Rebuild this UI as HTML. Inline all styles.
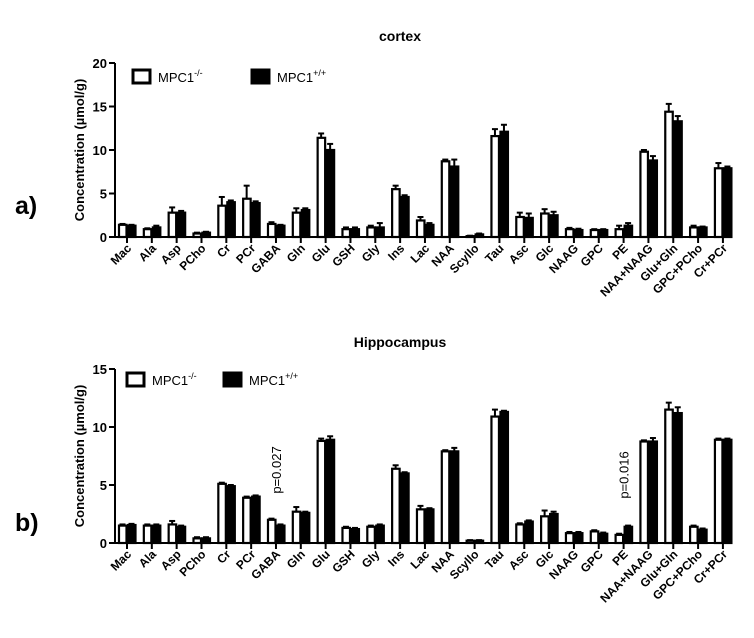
<!DOCTYPE html>
<html><head><meta charset="utf-8"><style>
html,body{margin:0;padding:0;background:#fff;}
svg{display:block;font-family:"Liberation Sans",Arial,sans-serif;}
</style></head><body>
<svg id="chart" width="754" height="638" viewBox="0 0 754 638" xmlns="http://www.w3.org/2000/svg"></svg>
<script>
const categories=["Mac","Ala","Asp","PCho","Cr","PCr","GABA","Gln","Glu","GSH","Gly","Ins","Lac","NAA","Scyllo","Tau","Asc","Glc","NAAG","GPC","PE","NAA+NAAG","Glu+Gln","GPC+PCho","Cr+PCr"];
const cortexKO=[1.4,0.9,2.8,0.4,3.6,4.4,1.5,2.8,11.4,0.9,1.1,5.5,1.9,8.7,0.1,11.6,2.3,2.7,0.9,0.8,0.9,9.8,14.4,1.1,7.9];
const cortexKOerr=[0.1,0.1,0.6,0.1,1.0,1.5,0.2,0.5,0.5,0.2,0.2,0.4,0.4,0.2,0.05,0.8,0.5,0.5,0.15,0.1,0.4,0.2,0.9,0.2,0.6];
const cortexWT=[1.3,1.1,2.8,0.5,4.0,3.9,1.3,3.1,10.0,0.9,1.1,4.6,1.4,8.1,0.3,12.1,2.2,2.5,0.8,0.8,1.3,8.8,13.3,1.1,7.9];
const cortexWTerr=[0.1,0.2,0.2,0.1,0.2,0.2,0.1,0.2,0.7,0.2,0.5,0.2,0.2,0.8,0.1,0.8,0.5,0.4,0.15,0.1,0.3,0.5,0.6,0.1,0.2];
const hippoKO=[1.5,1.5,1.6,0.4,5.1,3.9,2.0,2.7,8.8,1.3,1.4,6.4,2.9,7.9,0.2,10.9,1.6,2.3,0.85,1.0,0.7,8.75,11.5,1.4,8.9];
const hippoKOerr=[0.1,0.1,0.3,0.1,0.1,0.1,0.1,0.4,0.2,0.1,0.1,0.3,0.3,0.1,0.05,0.6,0.1,0.5,0.1,0.1,0.1,0.1,0.6,0.1,0.1];
const hippoWT=[1.55,1.5,1.4,0.4,4.9,4.0,1.5,2.6,8.9,1.2,1.5,6.0,2.9,7.9,0.2,11.3,1.85,2.5,0.85,0.8,1.4,8.75,11.2,1.15,8.9];
const hippoWTerr=[0.1,0.1,0.1,0.1,0.1,0.1,0.1,0.1,0.3,0.1,0.1,0.1,0.1,0.3,0.05,0.1,0.1,0.2,0.1,0.1,0.1,0.3,0.5,0.1,0.1];
const cortexTicks=[0,5,10,15,20];
const hippoTicks=[0,5,10,15];
const NS="http://www.w3.org/2000/svg";
const svg=document.getElementById('chart');
function mk(tag,attrs,parent,text){const e=document.createElementNS(NS,tag);for(const k in attrs)e.setAttribute(k,attrs[k]);if(text!==undefined)e.textContent=text;(parent||svg).appendChild(e);return e;}
function panel(cfg){
  const g=mk('g',{});
  
  
  const x0=115,x1=732,ymax=cfg.ticks[cfg.ticks.length-1];
  const yS=v=>cfg.y0-(v/ymax)*(cfg.y0-cfg.yTop);
  const xS=i=>127+i*24.83;
  const t=mk('text',{x:400,y:cfg.titleY,'text-anchor':'middle','font-size':14,'font-weight':'bold'},g,cfg.title);
  
  
  const pl=mk('text',{x:15,y:cfg.letterY,'font-size':25,'font-weight':'bold'},g,cfg.letter);
  
  
  const ya=mk('line',{x1:x0,y1:cfg.yTop,x2:x0,y2:cfg.y0+1,stroke:'#000','stroke-width':2},g);
  
  
  cfg.ticks.forEach(v=>{
    mk('line',{x1:x0-6,y1:yS(v),x2:x0,y2:yS(v),stroke:'#000','stroke-width':2},g);
    const tl=mk('text',{x:x0-8,y:yS(v)+5,'text-anchor':'end','font-size':13,'font-weight':'bold'},g,String(v));
    
    
  });
  const yt=mk('text',{x:0,y:0,'text-anchor':'middle','font-size':13,'font-weight':'bold',transform:`translate(84,${(cfg.y0+cfg.yTop)/2}) rotate(-90)`},g,'Concentration (\u00b5mol/g)');
  
  
  const xa=mk('line',{x1:x0-1,y1:cfg.y0,x2:x1,y2:cfg.y0,stroke:'#000','stroke-width':2},g);
  
  
  categories.forEach((c,i)=>{
    const cx=xS(i);
    mk('line',{x1:cx,y1:cfg.y0,x2:cx,y2:cfg.y0+6,stroke:'#000','stroke-width':2},g);
    const lb=mk('text',{x:0,y:0,'text-anchor':'end','font-size':12,'font-weight':'bold',transform:`translate(${cx+5},${cfg.y0+12}) rotate(-45)`},g,c);
    
    
    const series=[[cfg.ko,cfg.koErr,'#fff',cx-9],[cfg.wt,cfg.wtErr,'#000',cx]];
    series.forEach(([vals,errs,fill,bx],si)=>{
      const v=vals[i],e=errs[i],top=yS(v),et=yS(v+e);
      mk('line',{x1:bx+4.5,y1:top,x2:bx+4.5,y2:et,stroke:'#000','stroke-width':2},g);
      mk('line',{x1:bx+1.5,y1:et,x2:bx+7.5,y2:et,stroke:'#000','stroke-width':2},g);
      const r=mk('rect',{x:bx+1,y:top,width:7.5,height:Math.max(0,cfg.y0-top),fill:fill,stroke:'#000','stroke-width':2.2},g);
      
      
    });
  });
  const L=cfg.leg;
  const l1=mk('rect',{x:L[0],y:L[2],width:L[3],height:L[3]-4,fill:'#fff',stroke:'#000','stroke-width':3},g);
  
  
  const lt1=mk('text',{x:L[0]+L[3]+8,y:L[2]+12,'font-size':13},g);
  
  
  lt1.innerHTML='MPC1<tspan dy="-6" font-size="9">-/-</tspan>';
  const l2=mk('rect',{x:L[1],y:L[2],width:L[3],height:L[3]-4,fill:'#000',stroke:'#000','stroke-width':3},g);
  
  
  const lt2=mk('text',{x:L[1]+L[3]+8,y:L[2]+12,'font-size':13},g);
  
  
  lt2.innerHTML='MPC1<tspan dy="-6" font-size="9">+/+</tspan>';
  (cfg.pvals||[]).forEach(p=>{
    const pt=mk('text',{x:0,y:0,'text-anchor':'middle','font-size':13,transform:`translate(${xS(p[0])+5},${p[1]}) rotate(-90)`},g,p[2]);
    
    
  });
}
panel({id:'cortex',title:'cortex',titleY:41,letter:'a)',letterY:214,y0:237,yTop:63,ticks:cortexTicks,ko:cortexKO,koErr:cortexKOerr,wt:cortexWT,wtErr:cortexWTerr,leg:[133,252,70,17]});
panel({id:'hippocampus',title:'Hippocampus',titleY:347,letter:'b)',letterY:531,y0:543,yTop:369,ticks:hippoTicks,ko:hippoKO,koErr:hippoKOerr,wt:hippoWT,wtErr:hippoWTerr,leg:[127,224,373,17],pvals:[[6,470,'p=0.027'],[20,475,'p=0.016']]});
</script>
</body></html>
